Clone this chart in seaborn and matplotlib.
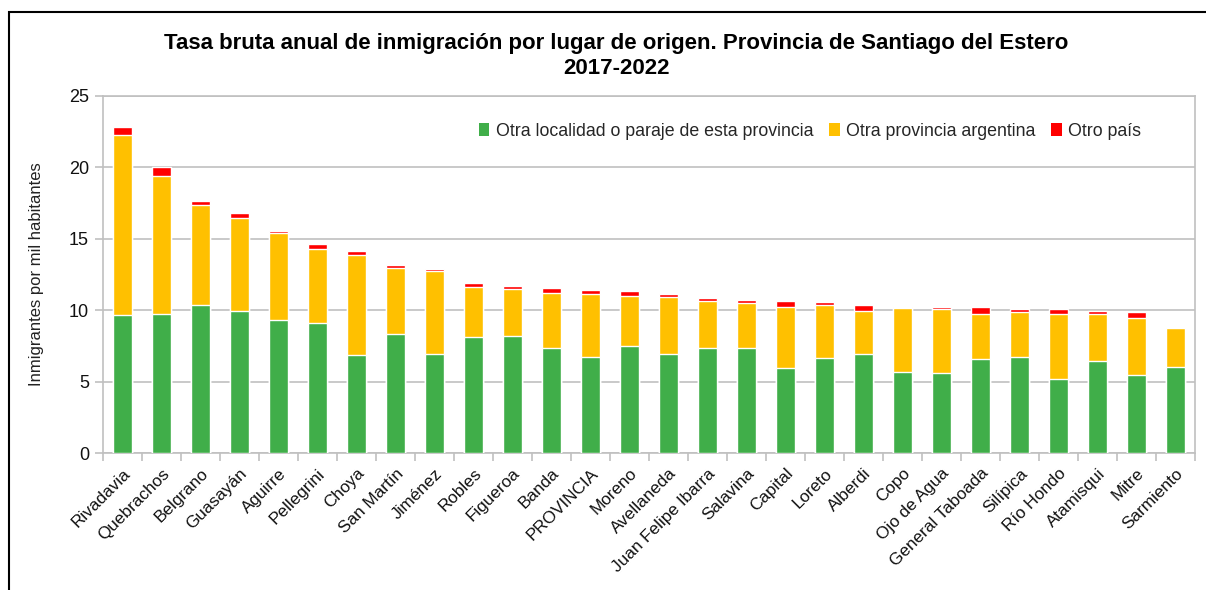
import matplotlib
matplotlib.use("Agg")
import matplotlib.pyplot as plt
import seaborn as sns
import pandas as pd
import numpy as np
from matplotlib.patches import Rectangle, Patch

sns.set_theme(style="white")
plt.rcParams['font.family'] = ['Liberation Sans', 'DejaVu Sans']

categorias = ["Rivadavia", "Quebrachos", "Belgrano", "Guasayán", "Aguirre", "Pellegrini",
              "Choya", "San Martín", "Jiménez", "Robles", "Figueroa", "Banda", "PROVINCIA",
              "Moreno", "Avellaneda", "Juan Felipe Ibarra", "Salavina", "Capital", "Loreto",
              "Alberdi", "Copo", "Ojo de Agua", "General Taboada", "Silípica", "Río Hondo",
              "Atamisqui", "Mitre", "Sarmiento"]
otra_localidad = [9.65, 9.77, 10.35, 9.98, 9.30, 9.09, 6.85, 8.32, 6.95, 8.11, 8.21, 7.34, 6.76,
                  7.53, 6.95, 7.34, 7.34, 5.97, 6.67, 6.95, 5.69, 5.59, 6.57, 6.76, 5.20,
                  6.46, 5.48, 6.06]
otra_provincia = [12.59, 9.65, 6.99, 6.50, 6.11, 5.22, 7.00, 4.64, 5.82, 3.50, 3.31, 3.90, 4.36,
                  3.50, 3.98, 3.29, 3.20, 4.29, 3.68, 3.03, 4.47, 4.48, 3.20, 3.10, 4.57,
                  3.31, 3.98, 2.73]
otro_pais = [0.56, 0.58, 0.31, 0.30, 0.11, 0.31, 0.30, 0.23, 0.12, 0.30, 0.18, 0.30, 0.30,
             0.30, 0.21, 0.21, 0.21, 0.39, 0.21, 0.37, 0.10, 0.19, 0.49, 0.21, 0.30,
             0.21, 0.40, 0.00]
series = ["Otra localidad o paraje de esta provincia", "Otra provincia argentina", "Otro país"]
colores = ["#40AE49", "#FFC000", "#FF0000"]

df = pd.DataFrame({"cat": categorias, "g": otra_localidad, "y": otra_provincia, "r": otro_pais})
df["gy"] = df["g"] + df["y"]
df["gyr"] = df["gy"] + df["r"]

fig = plt.figure(figsize=(12.06, 5.90), dpi=100)
ax = fig.add_axes([103/1206, (590-453.3)/590, 1092/1206, 357.6/590])

w = 0.51
sns.barplot(data=df, x="cat", y="gyr", color=colores[2], width=w, saturation=1, ax=ax, zorder=3)
sns.barplot(data=df, x="cat", y="gy", color=colores[1], width=w, saturation=1, ax=ax, zorder=3)
sns.barplot(data=df, x="cat", y="g", color=colores[0], width=w, saturation=1, ax=ax, zorder=3)

ax.set_xlim(-0.5, len(categorias) - 0.5)
ax.set_ylim(0, 25)
ax.set_yticks([0, 5, 10, 15, 20, 25])
ax.yaxis.grid(True, color="#c0c0c0", linewidth=1.2, zorder=0)
ax.set_axisbelow(True)
for s in ax.spines.values():
    s.set_color("#c0c0c0")
    s.set_linewidth(1.2)

ax.set_xlabel("")
ax.set_ylabel("Inmigrantes por mil habitantes", fontsize=12, color="#222222", labelpad=18)
ax.set_xticks(range(len(categorias)))
ax.set_xticklabels(categorias, rotation=45, ha="right", rotation_mode="anchor", fontsize=12.3,
                   color="#111111")
ax.tick_params(axis="x", which="major", length=0, pad=9)
ax.set_xticks(np.arange(-0.5, len(categorias), 1.0), minor=True)
ax.tick_params(axis="x", which="minor", length=6, color="#c0c0c0", width=1.2, bottom=True)
ax.tick_params(axis="y", length=6, color="#c0c0c0", width=1.2, left=True, labelsize=13,
               labelcolor="#111111", pad=4)

handles = [Patch(facecolor=c, edgecolor="none") for c in colores]
fig.legend(handles, series, loc="center", bbox_to_anchor=(810/1206, (590-131)/590), ncol=3,
           frameon=False, fontsize=12.8, handlelength=0.6, handleheight=0.7,
           handletextpad=0.35, columnspacing=0.9)

fig.text(616/1206, (590-44)/590, "Tasa bruta anual de inmigración por lugar de origen. Provincia de Santiago del Estero",
         ha="center", va="center", fontsize=16, fontweight="bold", color="black")
fig.text(616/1206, (590-68)/590, "2017-2022", ha="center", va="center", fontsize=16,
         fontweight="bold", color="black")

fig.patches.append(Rectangle((9/1206, -0.1), 1.2, 0.1 + (590-12)/590, transform=fig.transFigure,
                             fill=False, edgecolor="black", linewidth=1.5))

fig.savefig("out.png", dpi=100)
